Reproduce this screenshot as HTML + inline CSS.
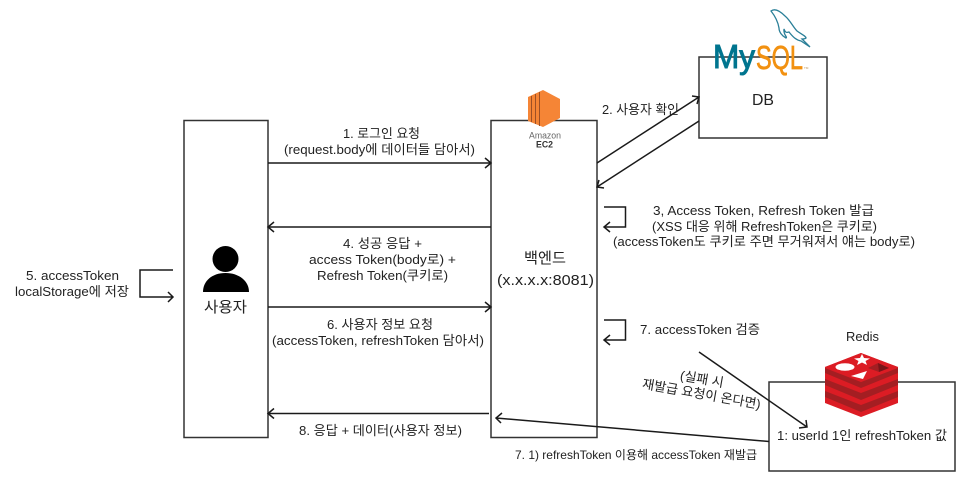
<!DOCTYPE html>
<html><head><meta charset="utf-8"><style>
html,body{margin:0;padding:0;background:#fff}
svg{display:block}
text{font-family:"Liberation Sans","Noto Sans CJK KR",sans-serif;fill:#222;font-size:13px;text-anchor:start}
.b{fill:none;stroke:#333;stroke-width:1.5}
.l{fill:none;stroke:#1a1a1a;stroke-width:1.5}
</style></head><body>
<svg width="966" height="480" viewBox="0 0 966 480" xmlns="http://www.w3.org/2000/svg">
<rect width="966" height="480" fill="#fff"/>
<rect class="b" x="184" y="120.500" width="84" height="317"/>
<rect class="b" x="491" y="120.500" width="106" height="317"/>
<rect class="b" x="699" y="57" width="128" height="81"/>
<rect class="b" x="769" y="382" width="186" height="89"/>

<!-- arrows -->
<path class="l" d="M268 163H491M485 158l6 5-6 5"/>
<path class="l" d="M491 227H268M274 222l-6 5 6 5"/>
<path class="l" d="M268 307H491M485 302l6 5-6 5"/>
<path class="l" d="M489 413.500H268M274 408.500l-6 5 6 5"/>
<path class="l" d="M769 441.500L496 418M502 413l-6 5 5 5"/>
<path class="l" d="M597 163L699 97M692 96l7 1-2 7"/>
<path class="l" d="M699 121L597 187M604 188l-7-1 2-7"/>
<path class="l" d="M604 207H625.500V227H604M610 222l-6 5 6 5"/>
<path class="l" d="M604 320H625.500V340H604M610 335l-6 5 6 5"/>
<path class="l" d="M173 270H140V297H173M168 292l5 5-5 5"/>
<path class="l" d="M699 352L807 427M806 420l1 7-8 1"/>

<!-- person -->
<circle cx="225.500" cy="259" r="13" fill="#000"/>
<path d="M203 292C203 281 212 273 225.500 273S249 281 249 292Z" fill="#000"/>

<!-- EC2 icon -->
<path d="M528 97L543 90V127L528 121Z" fill="#f58536"/>
<path d="M543 90L560 99V118L543 127Z" fill="#f58536"/>
<path d="M531.500 96V122M535.500 94V124M539.500 92V126" stroke="#9d5025" stroke-width="1"/>
<text x="529" y="138.500" style="font-size:9px;fill:#666" textLength="32" lengthAdjust="spacingAndGlyphs">Amazon</text>
<text x="536" y="147.500" style="font-size:9px;font-weight:bold;fill:#333" textLength="17" lengthAdjust="spacingAndGlyphs">EC2</text>

<!-- MySQL -->
<path d="M771 11C775 8 780 11 785 16C790 20 793 27 797 31C801 34 806 36 806 38C805 39 803 39 802 39L810 47L801 41C796 40 793 37 789 32C786 33 785 32 784 29C783 35 788 37 786 38C782 36 779 32 779 28C778 22 775 16 771 11Z" fill="none" stroke="#2a7f98" stroke-width="1.300"/>
<text x="713" y="68" style="font-size:33px;fill:#00758f;stroke:#00758f;stroke-width:1" textLength="42" lengthAdjust="spacingAndGlyphs">My</text>
<text x="756" y="69" style="font-size:33px;fill:#f29111;stroke:#f29111;stroke-width:.7" textLength="47" lengthAdjust="spacingAndGlyphs">SQL</text>
<text x="804" y="69" style="font-size:3px;fill:#b9925a">TM</text>

<!-- Redis -->
<path d="M825 367L861 353L898 367V403L861 417L825 403Z" fill="#dc1c24"/>
<path d="M825 368L861 382L898 368V373L861 388L825 373Z" fill="#a41e22"/>
<path d="M825 379L861 393L898 379V385L861 400L825 385Z" fill="#a41e22"/>
<path d="M825 391L861 405L898 391V397L861 412L825 397Z" fill="#a41e22"/>
<path d="M861 353L898 367L861 382L825 367Z" fill="#dc1c24"/>
<ellipse cx="845" cy="367" rx="9.500" ry="3.800" fill="#fff"/>
<path d="M862 354l2 4 6 .5-4.500 2.500 1.500 4-5-2.500-5 2.500 1.500-4-4.500-2.500 6-.5z" fill="#fff"/>
<path d="M851 376L867 371L863 379Z" fill="#fff"/>
<path d="M868 368L878 363L889 368L879 372Z" fill="#a41e22"/>
<path d="M878 363L889 368L879 372Z" fill="#7a1418"/>

<!-- labels -->
<text x="343" y="138" textLength="77" lengthAdjust="spacingAndGlyphs">1. 로그인 요청</text>
<text x="284" y="154" textLength="191" lengthAdjust="spacingAndGlyphs">(request.body에 데이터들 담아서)</text>
<text x="343" y="248" textLength="79" lengthAdjust="spacingAndGlyphs">4. 성공 응답 +</text>
<text x="309" y="264" textLength="147" lengthAdjust="spacingAndGlyphs">access Token(body로) +</text>
<text x="317" y="280" textLength="131" lengthAdjust="spacingAndGlyphs">Refresh Token(쿠키로)</text>
<text x="327" y="329" textLength="106" lengthAdjust="spacingAndGlyphs">6. 사용자 정보 요청</text>
<text x="272" y="345" textLength="212" lengthAdjust="spacingAndGlyphs">(accessToken, refreshToken 담아서)</text>
<text x="299" y="435" textLength="163" lengthAdjust="spacingAndGlyphs">8. 응답 + 데이터(사용자 정보)</text>
<text x="515" y="459" style="font-size:12px" textLength="242" lengthAdjust="spacingAndGlyphs">7. 1) refreshToken 이용해 accessToken 재발급</text>
<text x="26" y="280" textLength="93" lengthAdjust="spacingAndGlyphs">5. accessToken</text>
<text x="15" y="296" textLength="114" lengthAdjust="spacingAndGlyphs">localStorage에 저장</text>
<text x="204" y="312" style="font-size:15px" textLength="43" lengthAdjust="spacingAndGlyphs">사용자</text>
<text x="524" y="263" style="font-size:15px" textLength="42" lengthAdjust="spacingAndGlyphs">백엔드</text>
<text x="497" y="285" style="font-size:15px" textLength="97" lengthAdjust="spacingAndGlyphs">(x.x.x.x:8081)</text>
<text x="602" y="114" textLength="77" lengthAdjust="spacingAndGlyphs">2. 사용자 확인</text>
<text x="752" y="105" style="font-size:16px" textLength="22" lengthAdjust="spacingAndGlyphs">DB</text>
<text x="653" y="215" textLength="221" lengthAdjust="spacingAndGlyphs">3, Access Token, Refresh Token 발급</text>
<text x="652" y="231" textLength="225" lengthAdjust="spacingAndGlyphs">(XSS 대응 위해 RefreshToken은 쿠키로)</text>
<text x="613" y="246" textLength="302" lengthAdjust="spacingAndGlyphs">(accessToken도 쿠키로 주면 무거워져서 얘는 body로)</text>
<text x="640" y="334" textLength="120" lengthAdjust="spacingAndGlyphs">7. accessToken 검증</text>
<text x="846" y="341" textLength="33" lengthAdjust="spacingAndGlyphs">Redis</text>
<text x="777" y="440" textLength="170" lengthAdjust="spacingAndGlyphs">1: userId 1인 refreshToken 값</text>
<g transform="translate(702 379) rotate(10)">
<text x="-22" y="4.500" textLength="44" lengthAdjust="spacingAndGlyphs">(실패 시</text>
</g>
<g transform="translate(701.500 394) rotate(10)">
<text x="-60" y="4.500" textLength="120" lengthAdjust="spacingAndGlyphs">재발급 요청이 온다면)</text>
</g>
</svg>
</body></html>
